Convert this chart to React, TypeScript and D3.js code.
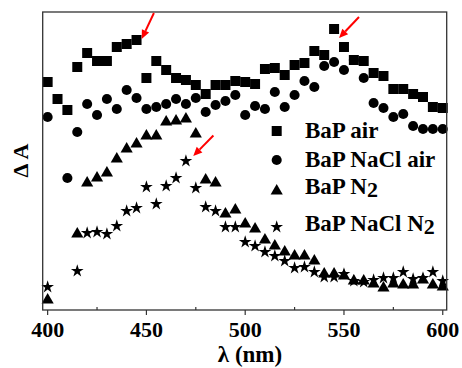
import React from "react";
import * as d3 from "d3";

// wavelength grid (nm)
const wavelengths = [
  400, 405, 410, 415, 420, 425, 430, 435, 440, 445, 450, 455, 460, 465, 470,
  475, 480, 485, 490, 495, 500, 505, 510, 515, 520, 525, 530, 535, 540, 545,
  550, 555, 560, 565, 570, 575, 580, 585, 590, 595, 600,
];

// absorbance change, arbitrary units
const bapAir = [
  0.228, 0.211, 0.2, 0.243, 0.257, 0.249, 0.249, 0.263, 0.266, 0.27, 0.232,
  0.249, 0.24, 0.232, 0.23, 0.225, 0.216, 0.225, 0.225, 0.229, 0.228, 0.226,
  0.241, 0.242, 0.235, 0.245, 0.247, 0.259, 0.255, 0.281, 0.263, 0.25, 0.249,
  0.237, 0.234, 0.221, 0.221, 0.216, 0.213, 0.203, 0.202,
];
const bapNaClAir = [
  0.193, null, 0.132, 0.178, 0.206, 0.195, 0.211, 0.201, 0.22, 0.212, 0.201,
  0.203, 0.206, 0.211, 0.206, 0.212, 0.198, 0.205, 0.209, 0.215, 0.195, 0.204,
  0.201, 0.218, 0.203, 0.215, 0.229, 0.223, 0.244, 0.248, 0.24, 0.25, 0.232,
  0.207, 0.202, 0.193, 0.196, 0.184, 0.181, 0.181, 0.181,
];
const bapN2 = [
  0.01, null, null, 0.076, 0.127, 0.132, 0.137, 0.151, 0.161, 0.166, 0.174,
  0.174, 0.188, 0.189, 0.191, 0.176, 0.13, 0.127, 0.096, 0.1, 0.086, 0.081,
  0.07, 0.064, 0.058, 0.054, 0.054, 0.049, 0.036, 0.036, 0.034, 0.029, 0.029,
  0.026, 0.022, 0.026, 0.025, 0.025, 0.03, 0.025, 0.023,
];
const bapNaClN2 = [
  0.023, null, null, 0.039, 0.077, 0.078, 0.076, 0.084, 0.099, 0.102, 0.123,
  0.106, 0.124, 0.132, 0.149, 0.122, 0.103, 0.099, 0.083, 0.083, 0.068, 0.064,
  0.058, 0.054, 0.049, 0.042, 0.043, 0.038, 0.033, 0.033, 0.036, 0.029, 0.028,
  0.03, 0.032, 0.032, 0.038, 0.031, 0.032, 0.038, 0.029,
];

const seriesNames = ["BaP air", "BaP NaCl air", "BaP N2", "BaP NaCl N2"];
const xTicks = [400, 450, 500, 550, 600];
const xMinorTicks = [425, 475, 525, 575];

// red arrows pointing at peaks: [tail λ, tail ΔA, tip λ, tip ΔA]
const arrows = [
  [453.8, 0.297, 447.6, 0.271],
  [557.6, 0.293, 547.5, 0.272],
  [483.9, 0.1745, 473.7, 0.154],
];

const W = 462;
const H = 368;
const left = 42.7;
const right = 446.7;
const top = 12;
const bottom = 310;
const serif = { fontFamily: "Liberation Serif" };

export default function App() {
  const x = d3.scaleLinear().domain([397.5, 602]).range([left, right]);
  const y = d3.scaleLinear().domain([0, 0.298]).range([bottom, top]);

  const shapes = [
    d3.symbol(d3.symbolSquare, 100)(),
    d3.symbol(d3.symbolCircle, 80)(),
    d3.symbol(d3.symbolTriangle, 64)(),
    d3.symbol(d3.symbolStar, 50)(),
  ];
  const all = [bapAir, bapNaClAir, bapN2, bapNaClN2];

  const legendY = [131, 160, 191, 227];
  const legendBase = [138, 167, 194, 231];

  return (
    <svg
      width={W}
      height={H}
      style={{ position: "absolute", left: 0, top: 0, background: "#fff" }}
    >
      {all.map((vals, si) => (
        <g key={si}>
          {vals.map((v, i) =>
            v == null ? null : (
              <path
                key={i}
                d={shapes[si] as string}
                transform={`translate(${x(wavelengths[i])},${y(v)})`}
                fill="#000"
              />
            )
          )}
        </g>
      ))}

      {/* frame */}
      <rect
        x={left}
        y={top}
        width={right - left}
        height={bottom - top}
        fill="none"
        stroke="#333"
        strokeWidth={1.3}
      />
      {xTicks.map((t) => (
        <g key={t}>
          <line x1={x(t)} x2={x(t)} y1={bottom} y2={bottom + 5} stroke="#333" strokeWidth={1.2} />
          <text
            x={x(t)}
            y={337}
            textAnchor="middle"
            fontSize={22}
            fontWeight="bold"
            style={serif}
          >
            {t}
          </text>
        </g>
      ))}
      {xMinorTicks.map((t) => (
        <line key={t} x1={x(t)} x2={x(t)} y1={bottom} y2={bottom - 3} stroke="#333" strokeWidth={1.2} />
      ))}

      <text x={250} y={362} textAnchor="middle" fontSize={23} fontWeight="bold" style={serif}>
        λ (nm)
      </text>
      <text
        transform="translate(28,160.5) rotate(-90)"
        textAnchor="middle"
        fontSize={22}
        fontWeight="bold"
        style={serif}
      >
        Δ A
      </text>

      {/* legend */}
      {seriesNames.map((name, i) => {
        const sub = name.endsWith("N2");
        return (
          <g key={name}>
            <path d={shapes[i] as string} transform={`translate(276.7,${legendY[i]})`} fill="#000" />
            <text x={305} y={legendBase[i]} fontSize={23} fontWeight="bold" style={serif}>
              {sub ? name.slice(0, -1) : name}
              {sub && (
                <tspan dy={3} fontSize={22}>
                  2
                </tspan>
              )}
            </text>
          </g>
        );
      })}

      {/* arrows */}
      {arrows.map(([x0, y0, x1, y1], i) => {
        const ax = x(x1);
        const ay = y(y1);
        const bx = x(x0);
        const by = y(y0);
        const ang = Math.atan2(ay - by, ax - bx);
        const len = 9;
        const half = 4;
        const baseX = ax - len * Math.cos(ang);
        const baseY = ay - len * Math.sin(ang);
        const px = -Math.sin(ang) * half;
        const py = Math.cos(ang) * half;
        return (
          <g key={i}>
            <line x1={bx} y1={by} x2={baseX} y2={baseY} stroke="#f00" strokeWidth={2} />
            <polygon
              points={`${ax},${ay} ${baseX + px},${baseY + py} ${baseX - px},${baseY - py}`}
              fill="#f00"
            />
          </g>
        );
      })}
    </svg>
  );
}
